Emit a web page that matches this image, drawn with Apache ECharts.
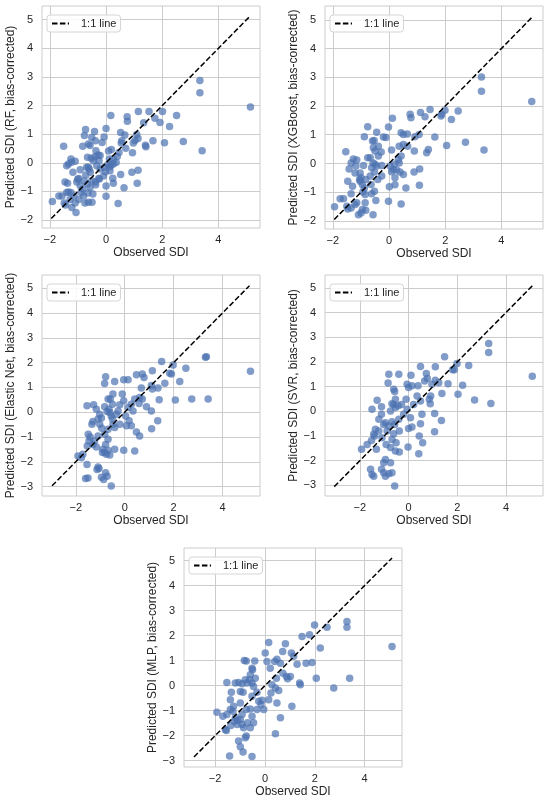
<!DOCTYPE html>
<html>
<head>
<meta charset="utf-8">
<script src="https://cdn.jsdelivr.net/npm/echarts@6/dist/echarts.min.js"></script>
<style>
  html, body { margin: 0; padding: 0; background: #fff; }
  #chart { width: 550px; height: 803px; }
</style>
</head>
<body>
<div id="chart"></div>
<script>
// observed / predicted SDI
var rfObs = [3.34,3.34,5.14,3.42,2.51,2.26,2.75,2.08,1.67,1.53,1.74,1.92,2.01,1.15,1.34,1.40,1.42,1.14,1.09,0.97,1.03,0.94,0.75,0.76,0.67,0.56,0.52,0.70,0.54,0.46,0.40,0.19,0.17,0.00,-0.07,-0.14,0.09,0.12,0.06,0.14,0.18,0.26,-0.02,-0.09,0.52,0.92,1.14,1.11,0.64,0.26,0.24,0.00,0.00,0.43,-0.26,-0.38,-0.33,-0.45,-0.40,-0.36,-0.28,-0.38,-0.57,-0.63,-0.51,-0.41,-0.73,-0.77,-0.83,-0.53,-0.66,-0.63,-0.60,-0.69,-0.56,-0.72,-0.78,-0.66,-0.51,-0.37,-0.57,-0.92,-0.97,-1.04,-1.01,-1.18,-1.25,-1.23,-1.34,-1.40,-1.10,-1.51,-1.46,-1.37,-1.25,-1.14,-1.28,-1.10,-1.07,-0.97,-0.89,-0.80,-0.75,-0.63,-0.50,-0.47,-0.65,-0.83,-0.92,-1.68,-1.57,-1.49,-1.44,-1.91,-1.40,-1.34,-1.22,-0.21,-0.25,-0.21,-0.07,0.14,0.26,0.36,-0.24];
var rfPred = [2.88,2.45,1.95,0.42,1.65,1.27,0.74,0.70,0.77,1.79,1.56,1.41,1.79,1.79,1.40,0.61,0.56,0.85,0.99,0.69,0.78,0.35,1.61,1.45,0.97,0.77,1.06,0.51,0.69,0.36,0.22,0.46,1.65,1.20,0.90,0.71,0.41,0.13,-0.07,-0.14,-0.08,-0.04,-0.31,-0.46,-0.41,-0.33,-0.26,-0.72,-0.87,-0.72,-0.54,-0.81,-1.17,-1.42,-0.55,-0.67,-0.10,0.07,0.21,0.42,0.27,0.77,0.60,0.66,0.88,1.09,1.16,0.95,0.58,0.16,0.19,-0.16,-0.22,-0.16,-0.33,-0.43,-0.63,-0.74,-0.63,-0.77,-0.86,-0.24,-0.55,-0.67,-0.58,-0.33,0.13,0.02,-0.04,-0.10,0.05,0.58,-0.67,-0.72,-1.04,-1.16,-1.28,-1.41,-1.74,-1.28,-1.04,-1.16,-1.41,-1.38,-1.38,-1.09,-1.06,-0.92,-0.80,-1.16,-1.16,-1.41,-1.48,-1.35,-1.04,-1.02,-1.56,0.25,0.07,-0.22,-0.16,-0.28,0.13,0.01,-0.57];

var xgbObs = [3.29,3.29,5.08,3.38,2.72,2.46,2.22,2.05,1.99,1.87,1.85,1.46,1.63,1.28,1.12,1.40,1.34,1.07,0.92,0.90,0.89,1.09,1.08,0.75,0.78,0.65,0.43,0.51,0.51,0.66,0.36,0.43,0.33,0.09,0.12,-0.02,-0.20,-0.11,0.09,0.15,0.04,0.19,0.27,0.39,0.36,0.51,0.21,0.21,0.01,-0.02,0.43,0.60,-0.38,-0.50,-0.28,-0.44,-0.59,-0.53,-0.76,-0.88,-0.56,-0.67,-0.57,-0.50,-0.62,-0.44,-0.26,-0.38,-0.26,-0.40,-0.52,-0.67,-0.83,-0.64,-0.52,-0.62,-0.85,-0.47,-0.57,-0.85,-0.95,-1.09,-1.00,-0.83,-1.15,-1.21,-1.35,-1.47,-1.50,-1.62,-1.74,-1.94,-1.35,-1.30,-1.47,-1.42,-1.35,-1.27,-1.15,-1.21,-1.03,-1.00,-1.03,-0.95,-0.88,-0.93,-1.05,-1.18,-1.54,-0.91,-0.76];
var xgbPred = [3.01,2.51,2.16,0.47,0.74,1.83,1.53,0.63,1.85,1.71,1.65,1.88,0.92,1.63,1.77,0.49,0.37,1.01,0.93,0.43,-0.30,-0.19,-0.76,1.71,1.59,1.03,1.07,1.01,0.66,0.60,0.60,0.26,0.14,0.47,1.57,1.27,0.92,0.90,-0.29,-0.21,-0.09,-0.03,-0.23,-0.30,0.02,-0.38,-0.50,-0.74,-0.81,-1.31,-1.41,-0.85,0.60,0.43,0.40,1.09,0.78,0.80,1.28,0.93,0.55,0.20,0.02,-0.03,-0.15,-0.09,-0.07,0.26,-0.44,-0.56,-0.30,-0.44,-0.56,-0.73,-0.97,-1.05,-1.08,-1.29,-1.78,-1.37,-1.60,-1.78,-1.72,-1.63,-1.37,-1.43,-1.55,-1.58,-1.49,-1.23,-1.23,-1.51,-1.05,-0.79,-0.62,-0.19,0.02,0.16,0.12,-0.33,-0.33,-0.50,-0.62,-0.73,-0.85,-0.99,-0.56,-0.09,0.41,-0.07,0.20];

var enObs = [3.30,3.34,5.14,3.41,2.74,2.50,2.25,2.07,1.98,1.84,1.91,1.51,1.64,1.41,1.36,1.13,1.09,1.13,1.35,1.10,1.09,0.89,0.72,0.79,0.48,0.68,0.61,0.72,0.59,0.41,0.27,0.34,0.14,0.14,-0.04,-0.10,-0.04,-0.20,0.04,0.18,0.07,0.27,0.48,0.61,0.41,-0.04,-0.41,-0.55,-0.20,-0.41,-0.68,-0.82,-0.78,-0.68,-0.48,-0.55,-0.61,-0.72,-0.64,-0.50,-0.59,-0.48,-0.50,-0.41,-0.78,-0.82,-0.68,-0.82,-1.02,-0.95,-1.02,-0.94,-1.09,-1.23,-1.30,-1.16,-1.53,-1.49,-1.41,-1.34,-1.30,-1.27,-1.16,-1.54,-1.09,-0.89,-0.82,-0.75,-0.91,-0.68,-0.61,-0.78,-0.72,-0.95,-0.86,-1.09,-1.13,-1.05,-1.54,-1.50,-1.60,-1.91,-1.77,-1.71,-1.46,-0.34,-0.27];
var enPred = [2.21,2.23,1.65,0.53,0.53,1.77,1.24,0.49,1.90,1.57,1.54,2.04,1.17,0.50,0.97,1.67,1.07,0.93,-0.35,-0.67,0.05,0.22,1.54,1.40,1.51,0.97,0.59,0.53,0.35,0.53,0.32,0.05,0.19,1.31,1.31,0.73,0.46,0.30,-0.15,-0.35,-0.55,-0.55,-0.80,-0.96,-1.57,-1.54,-1.50,-2.98,-0.49,-0.62,-0.69,-0.89,-1.30,-1.09,-0.49,-0.15,-0.01,0.03,0.12,0.32,0.53,0.73,-0.28,1.24,1.43,1.16,0.53,0.22,-0.08,-0.24,-0.49,-0.65,-0.96,-1.16,-1.30,-1.40,-1.36,-0.89,-1.00,-0.49,-0.38,0.30,0.12,0.26,-0.28,-1.50,-1.63,-1.70,-1.63,-1.54,-1.73,-2.44,-2.58,-2.62,-2.71,-2.21,-2.31,-2.27,-2.11,-2.65,-2.67,-1.77,-1.84,-1.70,-1.16,-0.08,0.05];

var svrObs = [3.29,3.29,5.08,3.38,2.71,2.47,2.22,2.03,1.99,1.88,1.81,1.48,1.62,1.37,1.35,1.10,1.10,1.07,1.07,1.24,0.96,0.91,0.89,0.85,0.73,0.77,0.49,0.66,0.49,0.35,0.39,0.55,0.49,0.44,0.58,0.42,0.10,-0.02,0.14,-0.06,0.00,0.21,0.08,0.14,0.00,-0.10,-0.06,-0.20,-0.40,-0.81,-0.84,-0.61,-0.57,-0.54,-0.61,-0.68,-0.54,-0.43,-0.29,-0.74,-0.68,-0.57,-0.81,-0.95,-0.88,-0.61,-0.68,-0.51,-0.38,-0.54,-0.74,-0.92,-1.09,-0.95,-1.02,-0.74,-1.11,-1.02,-0.95,-0.81,-0.68,-0.57,-1.56,-1.50,-1.43,-1.93,-1.70,-1.52,-1.43,-1.36,-1.39,-1.50,-1.29,-1.11,-1.11,-1.22,-1.02,-1.32,-1.22,-0.40,-0.38];
var svrPred = [2.75,2.38,1.42,0.32,0.46,1.85,1.06,0.69,1.94,1.68,1.68,2.21,1.12,0.72,-0.37,1.80,1.26,-0.09,-0.83,1.16,1.10,0.62,0.31,0.49,1.53,1.33,1.81,1.23,0.42,0.62,1.03,-0.12,-0.50,-1.00,-1.27,-1.72,1.46,-1.45,1.03,1.10,0.96,0.28,-0.26,-0.64,-0.70,0.49,0.08,-0.12,1.50,1.50,1.15,0.89,0.80,0.49,0.28,0.31,0.15,0.22,0.28,0.01,-0.42,-0.53,-0.60,-0.46,-0.80,-0.91,-1.14,-1.27,-1.65,-1.61,-1.47,-1.34,-1.07,-1.95,-2.08,-2.08,-2.35,-2.49,-2.63,-2.53,-2.49,-3.03,-2.35,-2.56,-2.63,-1.54,-1.34,-1.18,-0.93,-0.73,-1.00,0.08,0.45,0.18,-0.12,-0.32,-0.53,-1.54,-0.80,-0.32,-0.80];

var mlpObs = [3.29,3.29,5.10,3.40,2.76,2.49,2.22,2.06,1.99,1.79,1.89,1.65,1.49,1.39,1.42,1.29,1.06,1.15,1.08,1.02,0.91,0.86,0.82,0.71,0.62,0.72,0.48,0.39,0.46,0.21,0.15,0.08,0.01,0.28,0.42,0.55,0.24,0.48,0.15,-0.05,0.62,0.42,-0.25,-0.12,-0.32,-0.52,-0.46,-0.52,-0.62,-0.59,-0.39,-0.50,-0.52,-0.41,-0.83,-0.75,-0.79,-0.72,-0.92,-0.99,-0.88,-1.06,-1.35,-1.19,-1.53,-1.39,-1.26,-1.29,-1.39,-1.10,-0.99,-1.12,-0.92,-0.86,-0.70,-0.59,-0.46,-0.52,-0.59,-0.75,-0.92,-0.99,-0.75,-0.79,-1.06,-0.99,-0.88,-1.42,-0.52,-1.93,-1.69,-1.53,-1.55,-1.59,-1.37,-1.23,-1.19,-0.32,-0.16];
var mlpPred = [2.56,2.33,1.56,0.30,-0.09,2.33,1.50,0.30,2.42,2.03,0.93,0.90,1.96,0.11,0.04,0.86,1.30,1.17,-0.82,0.37,0.28,0.37,1.67,1.36,0.90,0.50,1.06,0.97,0.30,0.70,1.72,0.97,1.30,0.04,-0.09,-0.19,-0.29,-0.69,-0.56,-0.95,-1.28,-1.92,-0.62,-0.58,-0.26,-0.42,-0.03,0.11,0.24,0.44,0.30,0.64,0.70,0.99,1.01,0.99,0.24,0.11,0.08,-0.23,-0.26,0.13,-0.26,0.11,0.13,-0.56,-0.82,-1.02,-0.95,-1.38,-1.35,-1.55,-1.55,-1.68,-1.48,-1.68,-1.48,-1.22,-0.93,-0.95,-1.15,-0.69,-2.01,-2.08,-2.21,-2.44,-2.65,-2.81,-2.83,-1.06,-1.22,-1.15,-1.79,-1.75,-1.59,-1.42,-1.28,-0.95,-0.75];

var models = ['RF', 'XGBoost', 'Elastic Net', 'SVR', 'MLP'];
var obsSets = [rfObs, xgbObs, enObs, svrObs, mlpObs];
var predSets = [rfPred, xgbPred, enPred, svrPred, mlpPred];
// axis limits and 1:1 line ends per panel
var axisMin = [-2.28, -2.28, -3.38, -3.43, -3.25];
var axisMax = [5.48, 5.48, 5.53, 5.52, 5.50];
var lineStart = [-1.95, -1.95, -2.97, -3.05, -2.85];
var lineEnd = [5.1, 5.1, 5.1, 5.1, 5.1];
var xTicks = [-2, 0, 2, 4];
var yTicksShort = [-2, -1, 0, 1, 2, 3, 4, 5];
var yTicksLong = [-3, -2, -1, 0, 1, 2, 3, 4, 5];

// panel frames in px
var frames = [
  {left: 42, top: 6, width: 218, height: 222},
  {left: 325, top: 6, width: 218, height: 223},
  {left: 42, top: 275, width: 218, height: 221},
  {left: 325, top: 275, width: 218, height: 221},
  {left: 184, top: 548, width: 218, height: 219}
];

var FONT = '"Liberation Sans", Arial, sans-serif';
var TXT = '#262626';
var GRIDC = '#cccccc';

function fmt(v) {
  return v < 0 ? '\u2212' + (-v) : String(v);
}

var chart = echarts.init(document.getElementById('chart'), null, {renderer: 'canvas'});

var grids = [], xAxes = [], yAxes = [], legends = [], series = [];
for (var i = 0; i < 5; i++) {
  var f = frames[i];
  var yTicks = i < 2 ? yTicksShort : yTicksLong;
  grids.push({
    left: f.left, top: f.top, width: f.width, height: f.height,
    show: true, borderColor: GRIDC, borderWidth: 1, backgroundColor: '#fff'
  });
  xAxes.push({
    type: 'value', gridIndex: i, min: axisMin[i], max: axisMax[i],
    name: 'Observed SDI', nameLocation: 'middle', nameGap: 19,
    nameTextStyle: {fontFamily: FONT, fontSize: 12, color: TXT},
    axisLine: {show: false},
    axisTick: {show: false, customValues: xTicks},
    axisLabel: {customValues: xTicks, formatter: fmt, margin: 6,
      fontFamily: FONT, fontSize: 11, color: TXT},
    splitLine: {show: true, lineStyle: {color: GRIDC, width: 1}}
  });
  yAxes.push({
    type: 'value', gridIndex: i, min: axisMin[i], max: axisMax[i],
    name: 'Predicted SDI (' + models[i] + ', bias-corrected)',
    nameLocation: 'middle', nameGap: 22,
    nameTextStyle: {fontFamily: FONT, fontSize: 12, color: TXT},
    axisLine: {show: false},
    axisTick: {show: false, customValues: yTicks},
    axisLabel: {customValues: yTicks, formatter: fmt, margin: 9,
      fontFamily: FONT, fontSize: 11, color: TXT},
    splitLine: {show: true, lineStyle: {color: GRIDC, width: 1}}
  });
  legends.push({
    data: ['1:1 line'], left: f.left + 5, top: f.top + 9,
    orient: 'vertical', selectedMode: false,
    backgroundColor: 'rgba(255,255,255,0.85)', borderColor: '#d5d5d5',
    borderWidth: 1, borderRadius: 3, padding: [3, 4, 3, 4],
    itemWidth: 17, itemHeight: 10,
    itemStyle: {color: 'rgba(0,0,0,0)', borderWidth: 0, opacity: 0},
    textStyle: {fontFamily: FONT, fontSize: 11, color: TXT, padding: [0, 0, 0, 7]}
  });
  var pts = [];
  for (var k = 0; k < obsSets[i].length; k++) pts.push([obsSets[i][k], predSets[i][k]]);
  series.push({
    type: 'scatter', name: models[i], xAxisIndex: i, yAxisIndex: i,
    data: pts, symbolSize: 7.5, silent: true,
    itemStyle: {color: '#4C72B0', opacity: 0.7}
  });
  series.push({
    type: 'line', name: '1:1 line', xAxisIndex: i, yAxisIndex: i,
    data: [[lineStart[i], lineStart[i]], [lineEnd[i], lineEnd[i]]],
    symbol: 'none', silent: true, z: 5,
    itemStyle: {color: '#000'},
    lineStyle: {color: '#000', width: 1.5, type: [5.5, 2.4]}
  });
}

chart.setOption({
  animation: false,
  backgroundColor: '#fff',
  grid: grids,
  xAxis: xAxes,
  yAxis: yAxes,
  legend: legends,
  series: series
});
</script>
</body>
</html>
